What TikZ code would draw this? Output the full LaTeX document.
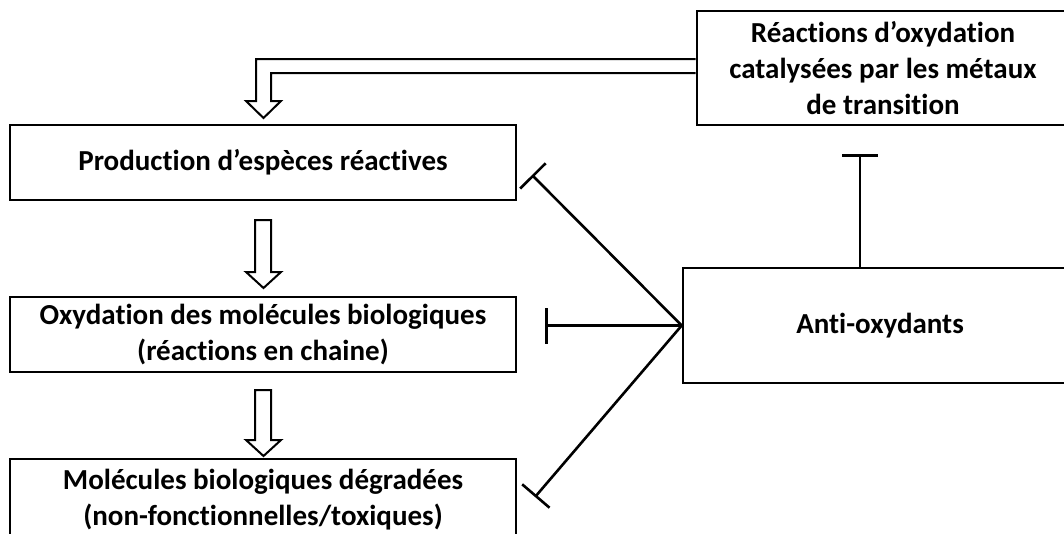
\documentclass[tikz,border=0pt]{standalone}
\usepackage{fontspec}
\setmainfont{Carlito}[RawFeature=-liga]
\usetikzlibrary{arrows.meta, positioning, calc}

\begin{document}
\begin{tikzpicture}[
  x=1pt, y=-1pt,
  every node/.style={font=\bfseries\fontsize{29}{36}\selectfont},
  box/.style={rectangle, draw=black, line width=2.6pt, fill=white, minimum width=#1, inner sep=0pt, align=center},
  inhib/.style={-{Bar[width=36pt]}, line width=2.6pt},
  hollow/.style={draw=black, fill=white, line width=2pt, line join=miter},
]
\clip (0,0) rectangle (1064,533);

% Main cascade
\node[box=506pt, minimum height=75pt] (prod) at (263,162.5) {Production d’espèces réactives};
\node[box=506pt, minimum height=75pt] (oxy) at (263,334.5) {Oxydation des molécules biologiques\\(réactions en chaine)};
\node[box=506pt, minimum height=82pt] (mol) at (263,500) {Molécules biologiques dégradées\\(non-fonctionnelles/toxiques)};

% Right side
\node[box=372pt, minimum height=114pt] (react) at (883,68) {Réactions d’oxydation\\catalysées par les métaux\\de transition};
\node[box=394pt, minimum height=115pt] (anti) at (880,325.5) {Anti-oxydants};

% Hollow arrows
\draw[hollow] (react.west |- 0,59) -- (256,59) -- (256,101) -- (246,101) -- (263.5,118)
  -- (281,101) -- (271,101) -- (271,73) -- (react.west |- 0,73);
\draw[hollow] (255,220) -- (255,272) -- (246,272) -- (263.5,288) -- (281,272) -- (271,272) -- (271,220) -- cycle;
\draw[hollow] (255,390) -- (255,440) -- (246,440) -- (263.5,456) -- (281,440) -- (271,440) -- (271,390) -- cycle;

% Inhibition ends
\coordinate (pEnd) at (532,175);
\coordinate (oEnd) at (545,325.5);
\coordinate (mEnd) at (535,497);
\coordinate (rEnd) at (860,154);

% Edges
\draw[inhib] (anti.west) -- (pEnd);
\draw[inhib] (anti.west) -- (oEnd);
\draw[inhib] (anti.west) -- (mEnd);
\draw[inhib] (rEnd |- anti.north) -- (rEnd);

\end{tikzpicture}
\end{document}
